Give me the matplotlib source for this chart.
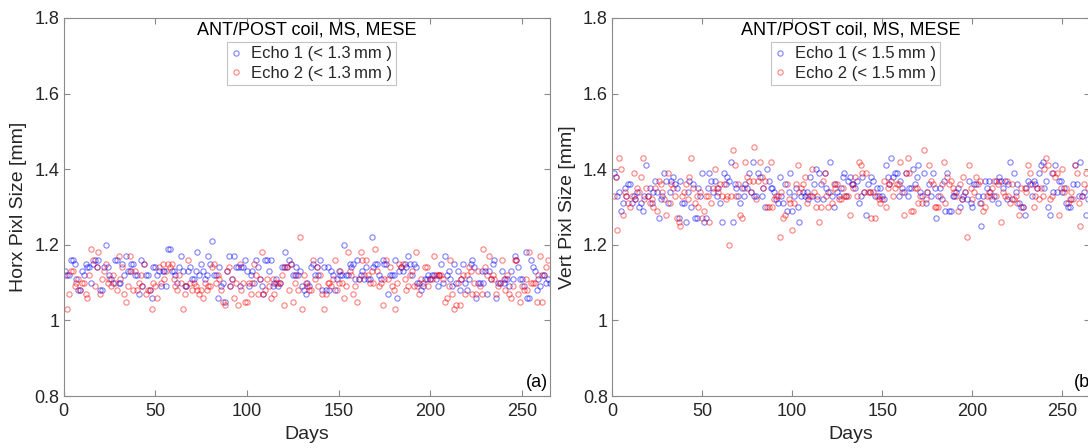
import numpy as np
import matplotlib
matplotlib.use("Agg")
import matplotlib.pyplot as plt
from matplotlib.ticker import FixedLocator, FuncFormatter

plt.rcParams['font.family'] = ['Liberation Sans', 'DejaVu Sans']

# ---------------- data ----------------
horz_echo1 = [
    1.13,1.12,1.12,1.16,1.16,1.15,1.11,1.08,1.08,1.13,
    1.12,1.15,1.14,1.14,1.10,1.15,1.16,1.14,1.16,1.08,
    1.08,1.14,1.20,1.14,1.12,1.11,1.10,1.16,1.16,1.10,
    1.10,1.15,1.12,1.17,1.13,1.13,1.15,1.15,1.12,1.12,
    1.07,1.16,1.09,1.15,1.12,1.12,1.08,1.06,1.14,1.14,
    1.12,1.13,1.09,1.13,1.13,1.09,1.19,1.19,1.13,1.13,
    1.12,1.10,1.14,1.17,1.13,1.09,1.09,1.13,1.14,1.11,
    1.11,1.13,1.18,1.12,1.15,1.13,1.11,1.12,1.17,1.15,
    1.21,1.12,1.12,1.06,1.14,1.09,1.10,1.05,1.13,1.17,
    1.09,1.11,1.17,1.14,1.14,1.09,1.14,1.14,1.16,1.13,
    1.09,1.12,1.13,1.10,1.16,1.14,1.11,1.09,1.07,1.16,
    1.16,1.13,1.16,1.09,1.10,1.11,1.09,1.10,1.14,1.14,
    1.18,1.14,1.16,1.15,1.12,1.12,1.14,1.12,1.13,1.09,
    1.08,1.07,1.10,1.09,1.14,1.15,1.12,1.14,1.12,1.16,
    1.08,1.14,1.08,1.14,1.08,1.13,1.12,1.08,1.11,1.13,
    1.12,1.12,1.20,1.12,1.12,1.15,1.14,1.15,1.11,1.16,
    1.11,1.12,1.13,1.11,1.14,1.11,1.11,1.22,1.14,1.15,
    1.15,1.12,1.11,1.16,1.15,1.15,1.07,1.12,1.12,1.12,
    1.16,1.06,1.13,1.14,1.13,1.15,1.14,1.17,1.15,1.12,
    1.15,1.14,1.10,1.10,1.08,1.09,1.11,1.11,1.12,1.11,
    1.12,1.12,1.11,1.09,1.12,1.15,1.10,1.17,1.12,1.13,
    1.11,1.09,1.15,1.10,1.13,1.08,1.11,1.15,1.10,1.08,
    1.11,1.15,1.16,1.14,1.06,1.10,1.10,1.13,1.10,1.13,
    1.07,1.13,1.11,1.15,1.16,1.06,1.10,1.10,1.13,1.10,
    1.11,1.11,1.09,1.13,1.11,1.17,1.16,1.14,1.11,1.11,
    1.09,1.18,1.06,1.06,1.16,1.14,1.13,1.08,1.11,1.09,
    1.12,1.12,1.10,1.11,1.10,
]

horz_echo2 = [
    1.12,1.03,1.07,1.13,1.13,1.09,1.10,
    1.11,1.08,1.10,1.10,1.07,1.06,1.12,
    1.19,1.16,1.09,1.14,1.18,1.07,1.11,
    1.13,1.15,1.10,1.11,1.09,1.12,1.10,
    1.08,1.17,1.11,1.14,1.07,1.05,1.09,
    1.17,1.13,1.08,1.13,1.08,1.10,1.12,
    1.09,1.15,1.07,1.08,1.08,1.03,1.10,
    1.09,1.06,1.14,1.10,1.15,1.11,1.13,
    1.15,1.14,1.15,1.11,1.09,1.08,1.12,
    1.10,1.03,1.07,1.09,1.16,1.10,1.08,
    1.10,1.09,1.08,1.07,1.08,1.06,1.10,
    1.08,1.09,1.09,1.14,1.15,1.10,1.12,
    1.11,1.08,1.05,1.04,1.13,1.14,1.09,
    1.11,1.06,1.10,1.04,1.15,1.08,1.10,
    1.05,1.05,1.10,1.07,1.10,1.15,1.12,
    1.07,1.11,1.18,1.07,1.08,1.11,1.09,
    1.06,1.11,1.07,1.10,1.10,1.10,1.12,
    1.04,1.14,1.14,1.08,1.15,1.05,1.10,
    1.12,1.08,1.22,1.03,1.12,1.10,1.09,
    1.08,1.08,1.16,1.11,1.14,1.09,1.12,
    1.07,1.03,1.07,1.10,1.10,1.09,1.11,
    1.16,1.08,1.10,1.13,1.10,1.06,1.09,
    1.18,1.13,1.12,1.07,1.09,1.05,1.11,
    1.18,1.16,1.12,1.16,1.12,1.10,1.13,
    1.10,1.19,1.13,1.09,1.10,1.04,1.11,
    1.16,1.11,1.14,1.09,1.08,1.03,1.10,
    1.15,1.14,1.15,1.11,1.08,1.09,1.12,
    1.13,1.09,1.18,1.09,1.07,1.11,1.10,
    1.14,1.14,1.09,1.11,1.11,1.17,1.12,
    1.12,1.12,1.12,1.11,1.05,1.06,1.09,
    1.16,1.07,1.03,1.04,1.10,1.04,1.11,
    1.12,1.07,1.12,1.14,1.13,1.07,1.10,
    1.07,1.13,1.09,1.07,1.19,1.14,1.12,
    1.17,1.11,1.12,1.11,1.07,1.09,1.10,
    1.16,1.11,1.08,1.12,1.07,1.06,1.09,
    1.16,1.16,1.07,1.05,1.09,1.08,1.11,
    1.08,1.18,1.10,1.10,1.10,1.05,1.12,
    1.17,1.05,1.12,1.14,1.16,
]

vert_echo1 = [
    1.39,1.38,1.33,1.34,1.29,1.31,1.35,
    1.33,1.36,1.36,1.31,1.33,1.32,1.34,
    1.30,1.31,1.29,1.33,1.41,1.33,1.35,
    1.31,1.34,1.37,1.34,1.27,1.32,1.33,
    1.39,1.37,1.31,1.34,1.37,1.38,1.36,
    1.35,1.27,1.37,1.31,1.31,1.26,1.34,
    1.37,1.30,1.36,1.27,1.27,1.35,1.33,
    1.39,1.26,1.27,1.35,1.39,1.37,1.34,
    1.37,1.33,1.35,1.31,1.26,1.39,1.36,
    1.38,1.37,1.42,1.26,1.36,1.35,1.33,
    1.31,1.35,1.33,1.36,1.35,1.39,1.34,
    1.42,1.33,1.33,1.39,1.38,1.33,1.35,
    1.30,1.40,1.37,1.35,1.35,1.34,1.32,
    1.31,1.38,1.33,1.31,1.36,1.29,1.34,
    1.39,1.29,1.33,1.35,1.30,1.26,1.33,
    1.34,1.33,1.34,1.32,1.38,1.33,1.36,
    1.40,1.32,1.39,1.36,1.32,1.39,1.35,
    1.34,1.42,1.33,1.30,1.36,1.34,1.33,
    1.35,1.38,1.39,1.33,1.37,1.38,1.36,
    1.36,1.35,1.37,1.31,1.33,1.38,1.34,
    1.28,1.36,1.34,1.38,1.37,1.33,1.35,
    1.33,1.35,1.33,1.32,1.41,1.38,1.36,
    1.43,1.38,1.39,1.39,1.33,1.37,1.35,
    1.34,1.39,1.33,1.35,1.35,1.40,1.36,
    1.38,1.41,1.34,1.33,1.39,1.31,1.34,
    1.36,1.33,1.39,1.35,1.27,1.33,1.35,
    1.32,1.37,1.29,1.39,1.29,1.29,1.33,
    1.33,1.34,1.35,1.30,1.32,1.33,1.34,
    1.32,1.37,1.31,1.30,1.36,1.36,1.33,
    1.31,1.25,1.33,1.37,1.35,1.37,1.34,
    1.32,1.33,1.37,1.31,1.38,1.37,1.35,
    1.37,1.32,1.36,1.42,1.32,1.39,1.34,
    1.36,1.31,1.30,1.30,1.28,1.35,
    1.37,1.36,1.33,1.37,1.36,1.35,
    1.39,1.41,1.42,1.35,1.37,1.30,
    1.28,1.39,1.34,1.41,1.34,1.37,
    1.37,1.34,1.35,1.31,1.30,1.30,
    1.32,1.36,1.41,1.36,1.33,1.42,
    1.33,1.34,1.28,1.32,
]

vert_echo2 = [
    1.33,1.38,1.24,1.43,1.40,1.28,1.34,
    1.33,1.31,1.30,1.33,1.39,1.32,1.35,
    1.34,1.38,1.43,1.32,1.35,1.33,1.31,
    1.32,1.30,1.35,1.29,1.37,1.36,1.34,
    1.32,1.28,1.39,1.31,1.36,1.35,1.33,
    1.27,1.26,1.25,1.33,1.34,1.36,1.32,
    1.38,1.43,1.35,1.31,1.33,1.30,1.34,
    1.27,1.29,1.33,1.33,1.26,1.31,1.35,
    1.40,1.35,1.34,1.36,1.33,1.36,1.32,
    1.33,1.20,1.33,1.45,1.41,1.33,1.36,
    1.28,1.27,1.35,1.42,1.38,1.37,1.34,
    1.37,1.46,1.32,1.37,1.42,1.38,1.35,
    1.37,1.30,1.30,1.42,1.30,1.32,1.33,
    1.33,1.22,1.34,1.27,1.28,1.36,1.32,
    1.31,1.24,1.31,1.36,1.41,1.34,1.35,
    1.36,1.38,1.31,1.33,1.33,1.40,1.34,
    1.30,1.33,1.26,1.30,1.37,1.39,1.33,
    1.30,1.34,1.31,1.36,1.35,1.36,1.32,
    1.32,1.35,1.33,1.33,1.33,1.28,1.36,
    1.35,1.38,1.33,1.42,1.41,1.39,1.34,
    1.39,1.34,1.34,1.27,1.34,1.27,1.33,
    1.32,1.31,1.32,1.37,1.30,1.35,1.36,
    1.37,1.33,1.35,1.36,1.36,1.42,1.34,
    1.28,1.39,1.43,1.39,1.29,1.29,1.35,
    1.35,1.31,1.33,1.31,1.45,1.32,1.34,
    1.41,1.37,1.36,1.30,1.30,1.30,1.33,
    1.36,1.42,1.31,1.38,1.36,1.37,1.35,
    1.34,1.33,1.29,1.36,1.32,1.38,1.34,
    1.22,1.41,1.35,1.32,1.34,1.38,1.36,
    1.37,1.31,1.29,1.30,1.33,1.34,1.33,
    1.35,1.37,1.33,1.36,1.37,1.26,1.34,
    1.33,1.37,1.33,1.31,1.36,1.32,
    1.33,1.31,1.28,1.35,1.30,1.35,
    1.34,1.41,1.39,1.36,1.30,1.33,
    1.35,1.32,1.35,1.33,1.40,1.43,
    1.41,1.32,1.33,1.39,1.38,1.39,
    1.28,1.35,1.40,1.34,1.35,1.31,
    1.32,1.34,1.32,1.41,1.39,1.31,
    1.25,1.33,1.36,1.39,1.35,
]

x_limits = (0, 265)
y_limits = (0.8, 1.8)
x_ticks = [0, 50, 100, 150, 200, 250]
y_ticks = [0.8, 1.0, 1.2, 1.4, 1.6, 1.8]
title_text = "ANT/POST coil, MS, MESE"
ylabels = ["Horx Pixl Size [mm]", "Vert Pixl Size [mm]"]
legend_labels = [["Echo 1 (< 1.3\u2009mm )", "Echo 2 (< 1.3\u2009mm )"],
                 ["Echo 1 (< 1.5\u2009mm )", "Echo 2 (< 1.5\u2009mm )"]]
panel_tags = ["(a)", "(b)"]
tag_x = [0.997, 1.013]

# ---------------- figure ----------------
W, H = 1088, 448
fig = plt.figure(figsize=(W / 100, H / 100), dpi=100)

def px_axes(x0, y_top, x1, y_bot):
    return [x0 / W, (H - y_bot) / H, (x1 - x0) / W, (y_bot - y_top) / H]

axes = [fig.add_axes(px_axes(63.5, 18, 549.5, 396)),
        fig.add_axes(px_axes(612, 18, 1089.5, 396))]

spine_col = '#8a8a8a'
text_col = '#262626'
blue = (0.0, 0.0, 1.0, 0.5)
red = (1.0, 0.0, 0.0, 0.5)

series = [(horz_echo1, horz_echo2), (vert_echo1, vert_echo2)]

for i, ax in enumerate(axes):
    e1, e2 = series[i]
    d1 = np.arange(1, len(e1) + 1)
    d2 = np.arange(1, len(e2) + 1)
    ax.plot(d1, e1, linestyle='none', marker='o', markersize=3.8,
            markerfacecolor='none', markeredgecolor=blue, markeredgewidth=0.8,
            label=legend_labels[i][0])
    ax.plot(d2, e2, linestyle='none', marker='o', markersize=3.8,
            markerfacecolor='none', markeredgecolor=red, markeredgewidth=0.8,
            label=legend_labels[i][1])
    ax.set_xlim(*x_limits)
    ax.set_ylim(*y_limits)
    ax.xaxis.set_major_locator(FixedLocator(x_ticks))
    ax.yaxis.set_major_locator(FixedLocator(y_ticks))
    ax.yaxis.set_major_formatter(FuncFormatter(lambda v, p: f"{v:g}"))
    ax.tick_params(direction='in', length=4, width=0.8, color=spine_col,
                   labelsize=13, labelcolor=text_col, top=True, right=True,
                   pad=3)
    ax.tick_params(axis='x', pad=5)
    for s in ax.spines.values():
        s.set_color(spine_col)
        s.set_linewidth(0.8)
    ax.set_xlabel("Days", fontsize=14, color=text_col, labelpad=4)
    ax.set_ylabel(ylabels[i], fontsize=14, color=text_col, labelpad=5)
    ax.text(0.5, 0.968, title_text, transform=ax.transAxes, ha='center',
            va='center', fontsize=13, color='black')
    leg = ax.legend(loc='upper center', bbox_to_anchor=(0.51, 0.936),
                    fontsize=12, frameon=True, fancybox=False,
                    borderpad=0.25, labelspacing=0.25, handlelength=0.6,
                    handletextpad=0.6, borderaxespad=0, markerscale=1.0)
    leg.get_frame().set_edgecolor('#b4b4b4')
    leg.get_frame().set_linewidth(0.8)
    for t in leg.get_texts():
        t.set_color(text_col)
    ax.text(tag_x[i], 0.012, panel_tags[i], transform=ax.transAxes,
            ha='right', va='bottom', fontsize=13, color='black')

fig.savefig("out.png", dpi=100)
